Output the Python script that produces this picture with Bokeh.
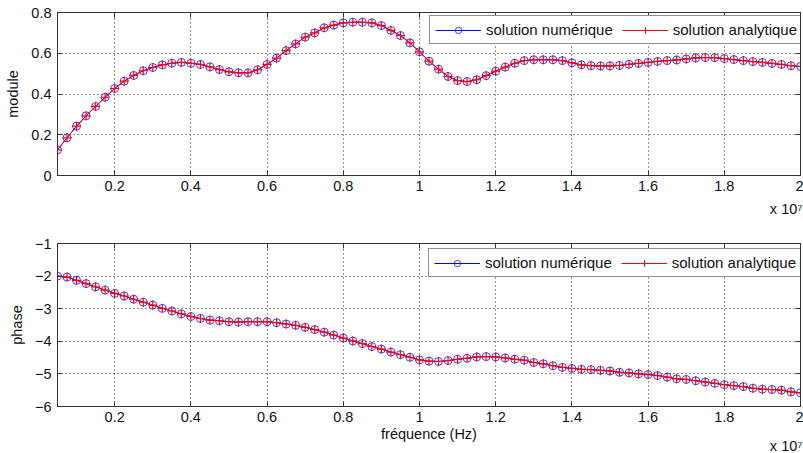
import numpy as np
from bokeh.plotting import figure
from bokeh.layouts import column
from bokeh.models import FixedTicker, LinearAxis, Legend, LegendItem, Title
from bokeh.embed import file_html
from bokeh.resources import INLINE

# frequency samples, in units of 10^7 Hz
frequence = [round(0.05 + 0.025 * i, 4) for i in range(79)]

module_numerique = [
    0.126, 0.185, 0.242, 0.293, 0.339, 0.384, 0.427, 0.463, 0.491, 0.514,
    0.530, 0.543, 0.551, 0.555, 0.551, 0.545, 0.533, 0.520, 0.509, 0.504,
    0.504, 0.519, 0.545, 0.576, 0.613, 0.646, 0.679, 0.700, 0.725, 0.738,
    0.749, 0.752, 0.752, 0.749, 0.736, 0.712, 0.687, 0.651, 0.607, 0.561,
    0.522, 0.486, 0.466, 0.461, 0.470, 0.490, 0.512, 0.532, 0.551, 0.564,
    0.568, 0.568, 0.568, 0.564, 0.553, 0.543, 0.539, 0.538, 0.538, 0.540,
    0.546, 0.550, 0.555, 0.560, 0.564, 0.567, 0.572, 0.577, 0.579, 0.578,
    0.574, 0.569, 0.564, 0.559, 0.555, 0.550, 0.545, 0.539, 0.535]
module_analytique = list(module_numerique)

phase_numerique = [
    -2.00, -2.03, -2.13, -2.23, -2.33, -2.43, -2.53, -2.61, -2.71, -2.80,
    -2.89, -2.99, -3.07, -3.16, -3.24, -3.30, -3.35, -3.37, -3.40, -3.41,
    -3.40, -3.40, -3.40, -3.43, -3.47, -3.51, -3.57, -3.64, -3.72, -3.81,
    -3.90, -3.99, -4.07, -4.16, -4.24, -4.33, -4.41, -4.49, -4.57, -4.61,
    -4.62, -4.59, -4.55, -4.52, -4.48, -4.47, -4.48, -4.51, -4.55, -4.58,
    -4.65, -4.69, -4.75, -4.80, -4.83, -4.86, -4.87, -4.89, -4.91, -4.95,
    -4.97, -5.00, -5.02, -5.05, -5.10, -5.15, -5.17, -5.21, -5.25, -5.29,
    -5.33, -5.36, -5.39, -5.44, -5.47, -5.48, -5.50, -5.55, -5.58]
phase_analytique = list(phase_numerique)

x_ticks = [0.2, 0.4, 0.6, 0.8, 1.0, 1.2, 1.4, 1.6, 1.8, 2.0]
x_tick_labels = ["0.2", "0.4", "0.6", "0.8", "1", "1.2", "1.4", "1.6", "1.8", "2"]
module_ticks = [0.0, 0.2, 0.4, 0.6, 0.8]
module_tick_labels = ["0", "0.2", "0.4", "0.6", "0.8"]
phase_ticks = [-6.0, -5.0, -4.0, -3.0, -2.0, -1.0]
phase_tick_labels = ["\u22126", "\u22125", "\u22124", "\u22123", "\u22122", "\u22121"]
exposant = "x 10\u2077"

FONT = "Liberation Sans"
FS = "14.5px"
FRAME = "#333333"
TXT = "#111111"


def make_fig(yvals_num, yvals_ana, y_ticks, y_labels, y_range, ylabel, xlabel,
             btop, bbottom, leg_loc):
    p = figure(frame_width=743, frame_height=163, x_range=(0.05, 2.0), y_range=y_range,
               output_backend="svg", toolbar_location=None,
               min_border_left=57, min_border_right=3,
               min_border_top=btop, min_border_bottom=bbottom)
    p.outline_line_color = FRAME
    p.outline_line_width = 1
    p.background_fill_color = "white"
    p.border_fill_color = "white"

    xa, ya = p.xaxis[0], p.yaxis[0]
    xa.ticker = FixedTicker(ticks=x_ticks)
    xa.major_label_overrides = dict(zip(x_ticks, x_tick_labels))
    ya.ticker = FixedTicker(ticks=y_ticks)
    ya.major_label_overrides = dict(zip(y_ticks, y_labels))
    for ax in (xa, ya):
        ax.axis_line_color = FRAME
        ax.major_tick_line_color = FRAME
        ax.major_tick_in = 5
        ax.major_tick_out = 0
        ax.minor_tick_line_color = None
        ax.major_label_text_font = FONT
        ax.major_label_text_font_size = FS
        ax.major_label_text_color = TXT
        ax.axis_label_text_font = FONT
        ax.axis_label_text_font_size = FS
        ax.axis_label_text_font_style = "normal"
        ax.axis_label_text_color = TXT
    xa.major_label_standoff = 5
    ya.major_label_standoff = 6
    ya.axis_label = ylabel
    ya.axis_label_standoff = 7
    if xlabel:
        xa.axis_label = xlabel
        xa.axis_label_standoff = 1

    for loc, tk in (("right", y_ticks), ("above", x_ticks)):
        ax = LinearAxis(ticker=FixedTicker(ticks=tk), major_label_text_font_size="1px",
                        major_label_text_color=None,
                        major_label_standoff=0, major_tick_in=5, major_tick_out=0,
                        minor_tick_line_color=None, axis_line_color=FRAME,
                        major_tick_line_color=FRAME)
        p.add_layout(ax, loc)

    for g in (p.xgrid[0], p.ygrid[0]):
        g.grid_line_color = "#222222"
        g.grid_line_dash = "1 3"
        g.grid_line_alpha = 1
        g.grid_line_width = 1
    p.xgrid[0].ticker = FixedTicker(ticks=x_ticks)
    p.ygrid[0].ticker = FixedTicker(ticks=y_ticks)

    l1 = p.line(frequence, yvals_num, line_color="blue", line_width=1)
    s1 = p.scatter(frequence, yvals_num, marker="circle", size=8, line_color="blue",
                   fill_color=None, line_width=1, line_alpha=0.75)
    l2 = p.line(frequence, yvals_ana, line_color="red", line_width=1)
    s2 = p.scatter(frequence, yvals_ana, marker="cross", size=9, line_color="red",
                   line_width=1.2)

    legend = Legend(items=[LegendItem(label="solution numérique", renderers=[l1, s1]),
                           LegendItem(label="solution analytique", renderers=[l2, s2])],
                    orientation="horizontal", location=leg_loc, margin=0,
                    padding=5, spacing=9, glyph_width=46, glyph_height=16,
                    label_height=16, label_standoff=5,
                    border_line_color="#222222", border_line_width=1,
                    background_fill_color="white", background_fill_alpha=1,
                    label_text_font=FONT, label_text_font_size="15px",
                    label_text_color=TXT)
    p.add_layout(legend)
    return p


p1 = make_fig(module_numerique, module_analytique, module_ticks, module_tick_labels,
              (0, 0.8), "module", None, 12, 55, (372, 131))
p2 = make_fig(phase_numerique, phase_analytique, phase_ticks, phase_tick_labels,
              (-6, -1), "phase", "fréquence (Hz)", 13, 47, (371, 129))

# exponent of the x axis, right aligned under each subplot
p1.add_layout(Title(text=exposant, align="right", text_font=FONT, text_font_size=FS,
                    text_font_style="normal", text_color=TXT, standoff=11, offset=-2),
              "below")
p2.add_layout(Title(text=exposant, align="right", text_font=FONT, text_font_size=FS,
                    text_font_style="normal", text_color=TXT, standoff=-18, offset=-2),
              "below")

layout = column(p1, p2, spacing=0)
open("out.html", "w").write(file_html(layout, INLINE))
